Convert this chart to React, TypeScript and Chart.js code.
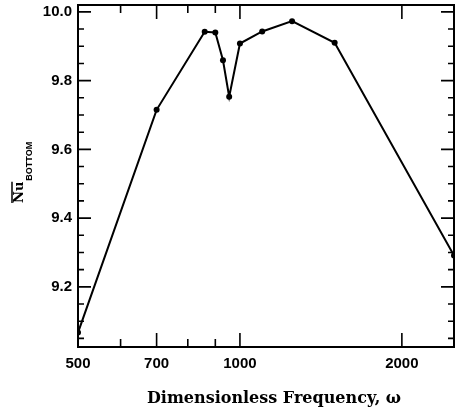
import React, { useEffect, useRef } from "react";
import { Chart, registerables } from "chart.js";

Chart.register(...registerables);

const frequencies = [500, 700, 860, 900, 930, 955, 1000, 1100, 1250, 1500, 2500];
const nusselt = [9.067, 9.715, 9.942, 9.94, 9.859, 9.753, 9.908, 9.943, 9.973, 9.91, 9.291];

const xTickValues = [500, 600, 700, 800, 900, 1000, 2000];
const xMajorTicks = [500, 700, 1000, 2000];
const yMajorTicks = [9.2, 9.4, 9.6, 9.8, 10.0];
const yMinorStep = 0.05;
const xTitle = "Dimensionless Frequency, ω";

const X_MIN = 500;
const X_MAX = 2500;
const Y_MIN = 9.025;
const Y_MAX = 10.02;

const framePlugin = {
  id: "framePlugin",
  afterDraw(chart: any) {
    const { ctx, chartArea } = chart;
    const xs = chart.scales.x;
    const ys = chart.scales.y;
    const { left, right, top, bottom } = chartArea;
    ctx.save();
    ctx.strokeStyle = "#000";
    ctx.lineWidth = 2;
    ctx.strokeRect(left, top, right - left, bottom - top);
    ctx.lineWidth = 1.6;
    // x ticks
    for (const v of xTickValues) {
      const px = xs.getPixelForValue(v);
      const len = xMajorTicks.includes(v) ? 14 : 8;
      ctx.beginPath();
      ctx.moveTo(px, bottom);
      ctx.lineTo(px, bottom - len);
      ctx.moveTo(px, top);
      ctx.lineTo(px, top + len);
      ctx.stroke();
    }
    // y ticks
    const n = Math.round((Y_MAX - 9.0) / yMinorStep);
    for (let i = 1; i <= n; i++) {
      const v = Math.round((9.0 + i * yMinorStep) * 1000) / 1000;
      if (v < Y_MIN || v > Y_MAX) continue;
      const py = ys.getPixelForValue(v);
      const major = yMajorTicks.some((m) => Math.abs(m - v) < 1e-6);
      const len = major ? 13 : 6;
      ctx.beginPath();
      ctx.moveTo(left, py);
      ctx.lineTo(left + len, py);
      ctx.moveTo(right, py);
      ctx.lineTo(right - len, py);
      ctx.stroke();
    }
    // x title
    ctx.fillStyle = "#000";
    ctx.font = "bold 16px 'DejaVu Serif'";
    ctx.textAlign = "center";
    ctx.textBaseline = "alphabetic";
    ctx.fillText(xTitle, 274, 403);
    // y title: overlined Nu with subscript BOTTOM
    ctx.translate(23, 203);
    ctx.rotate(-Math.PI / 2);
    ctx.textAlign = "left";
    ctx.font = "bold 13px 'DejaVu Serif'";
    ctx.fillText("Nu", 0, 0);
    const w = ctx.measureText("Nu").width;
    ctx.lineWidth = 1.5;
    ctx.beginPath();
    ctx.moveTo(0, -11);
    ctx.lineTo(w, -11);
    ctx.stroke();
    ctx.font = "bold 9px 'Liberation Sans'";
    ctx.fillText("BOTTOM", w + 1, 9);
    ctx.restore();
  },
};

export default function App() {
  const ref = useRef<HTMLCanvasElement>(null);
  useEffect(() => {
    if (!ref.current) return;
    const chart = new Chart(ref.current, {
      type: "line",
      data: {
        datasets: [
          {
            data: frequencies.map((f, i) => ({ x: f, y: nusselt[i] })),
            borderColor: "#000",
            backgroundColor: "#000",
            borderWidth: 2,
            pointRadius: 3,
            pointBackgroundColor: "#000",
            pointBorderWidth: 0,
            tension: 0,
          },
        ],
      },
      options: {
        animation: false,
        responsive: false,
        maintainAspectRatio: false,
        layout: { padding: { top: 5, right: 1, left: 0, bottom: 0 } },
        plugins: {
          legend: { display: false },
          tooltip: { enabled: false },
        },
        scales: {
          x: {
            type: "logarithmic",
            min: X_MIN,
            max: X_MAX,
            afterBuildTicks: (s: any) => {
              s.ticks = xMajorTicks.map((v) => ({ value: v }));
            },
            afterFit: (s: any) => {
              s.height = 64;
              s.paddingLeft = 0;
              s.paddingRight = 0;
            },
            grid: { display: false, drawTicks: false },
            border: { display: false },
            ticks: {
              color: "#000",
              font: { family: "'Liberation Sans'", weight: "bold", size: 15 },
              padding: 8,
              maxRotation: 0,
              autoSkip: false,
              callback: (v: any) => String(v),
            },
          },
          y: {
            type: "linear",
            min: Y_MIN,
            max: Y_MAX,
            afterBuildTicks: (s: any) => {
              s.ticks = yMajorTicks.map((v) => ({ value: v }));
            },
            afterFit: (s: any) => {
              s.width = 78;
              s.paddingTop = 0;
              s.paddingBottom = 0;
            },
            grid: { display: false, drawTicks: false },
            border: { display: false },
            ticks: {
              color: "#000",
              font: { family: "'Liberation Sans'", weight: "bold", size: 15 },
              padding: 6,
              callback: (v: any) => Number(v).toFixed(1),
            },
          },
        },
      },
      plugins: [framePlugin],
    });
    return () => chart.destroy();
  }, []);
  return (
    <div style={{ position: "fixed", left: 0, top: 0, width: 458, height: 411, background: "#fff" }}>
      <canvas ref={ref} width={458} height={411} style={{ display: "block" }} />
    </div>
  );
}
